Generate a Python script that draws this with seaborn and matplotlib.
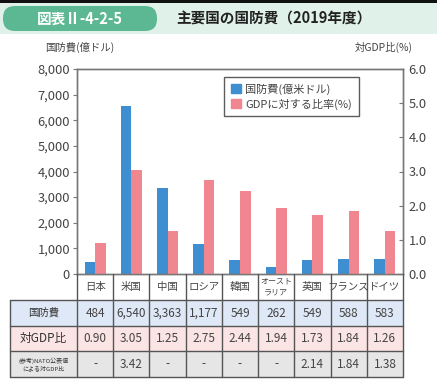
import matplotlib
matplotlib.use("Agg")
import matplotlib.pyplot as plt
import matplotlib.patches as mpatches
import seaborn as sns
import pandas as pd
import numpy as np

# ---- data ----
countries = ["日本", "米国", "中国", "ロシア", "韓国", "オースト\nラリア", "英国", "フランス", "ドイツ"]
spending = [484, 6540, 3363, 1177, 549, 262, 549, 588, 583]          # 億米ドル
gdp_ratio = [0.90, 3.05, 1.25, 2.75, 2.44, 1.94, 1.73, 1.84, 1.26]   # %
nato_ratio = ["-", "3.42", "-", "-", "-", "-", "2.14", "1.84", "1.38"]
spending_labels = ["484", "6,540", "3,363", "1,177", "549", "262", "549", "588", "583"]
left_ticks = [0, 1000, 2000, 3000, 4000, 5000, 6000, 7000, 8000]
right_ticks = [0.0, 1.0, 2.0, 3.0, 4.0, 5.0, 6.0]
series = ["国防費(億米ドル)", "GDPに対する比率(%)"]

BLUE = "#3d8fd1"
PINK = "#ef8690"
TXT = "#444444"
AX = "#777777"

sns.set_theme(style="white")
plt.rcParams["font.family"] = ["Noto Sans CJK JP", "DejaVu Sans"]

W, H = 437, 388
fig = plt.figure(figsize=(W / 100, H / 100), dpi=100)

def px_axes(x0, y0, x1, y1):
    return [x0 / W, 1 - y1 / H, (x1 - x0) / W, (y1 - y0) / H]

# ---- header ----
hax = fig.add_axes([0, 0, 1, 1])
hax.set_xlim(0, W); hax.set_ylim(H, 0); hax.axis("off")
hax.add_patch(mpatches.Rectangle((0, 0), W, 3, color="#111111", lw=0))
hax.add_patch(mpatches.Rectangle((0, 3), W, 31, color="#dff1e8", lw=0))
hax.add_patch(mpatches.FancyBboxPatch((3, 6), 154, 25, boxstyle="round,pad=0,rounding_size=12",
                                      color="#5cb892", lw=0))
hax.text(80, 18.5, "図表Ⅱ-4-2-5", color="white", fontsize=10.5, fontweight="bold",
         ha="center", va="center")
hax.text(176, 18.5, "主要国の国防費（2019年度）", color="#222222", fontsize=10.5,
         fontweight="bold", ha="left", va="center")
hax.text(80, 47, "国防費(億ドル)", color=TXT, fontsize=7.5, ha="center", va="center")
hax.text(384, 47, "対GDP比(%)", color=TXT, fontsize=7.5, ha="center", va="center")

# ---- main chart ----
ax = fig.add_axes(px_axes(77, 69, 403, 274))
ax2 = ax.twinx()

df_sp = pd.DataFrame({"country": countries, "value": spending, "series": series[0]})
df_gd = pd.DataFrame({"country": countries, "value": gdp_ratio, "series": series[1]})

sns.barplot(data=df_sp, x="country", y="value", hue="series", hue_order=series,
            palette=[BLUE, PINK], width=0.58, order=countries, ax=ax, dodge=True,
            legend=False, edgecolor="none", saturation=1)
sns.barplot(data=df_gd, x="country", y="value", hue="series", hue_order=series,
            palette=[BLUE, PINK], width=0.58, order=countries, ax=ax2, dodge=True,
            legend=False, edgecolor="none", saturation=1)

ax.set_xlim(-0.5, len(countries) - 0.5)
ax.set_ylim(0, 8000)
ax2.set_ylim(0, 6)
ax.set_yticks(left_ticks)
ax.set_yticklabels([f"{v:,}" for v in left_ticks])
ax2.set_yticks(right_ticks)
ax2.set_yticklabels([f"{v:.1f}" for v in right_ticks])
ax.set_xlabel(""); ax.set_ylabel(""); ax2.set_ylabel("")
ax.set_xticks(range(len(countries)))
ax.set_xticklabels([])
ax.tick_params(axis="x", length=0)
ax.tick_params(axis="y", direction="out", length=3, width=0.8, color=AX,
               labelsize=9.3, labelcolor=TXT, pad=2)
ax2.tick_params(axis="y", direction="in", length=3, width=0.8, color=AX,
                labelsize=9.3, labelcolor=TXT, pad=4)
for a in (ax, ax2):
    for s in a.spines.values():
        s.set_color(AX); s.set_linewidth(1.0)

# category labels
xtr = ax.get_xaxis_transform()
for i, c in enumerate(countries):
    parts = c.split("\n")
    if len(parts) == 2:
        ax.text(i, -0.036, parts[0], transform=xtr, ha="center", va="center",
                fontsize=5.8, color=TXT)
        ax.text(i, -0.090, parts[1], transform=xtr, ha="center", va="center",
                fontsize=5.8, color=TXT)
    else:
        ax.text(i, -0.063, c, transform=xtr, ha="center", va="center",
                fontsize=7.5, color=TXT)

handles = [mpatches.Patch(color=BLUE, label=series[0]), mpatches.Patch(color=PINK, label=series[1])]
leg = ax2.legend(handles=handles, loc="upper left", bbox_to_anchor=(0.451, 0.963),
                 frameon=True, fancybox=False, fontsize=8, handlelength=0.9, handleheight=0.9,
                 handletextpad=0.4, labelspacing=0.35, borderpad=0.6, borderaxespad=0)
leg.get_frame().set_edgecolor("#333333")
leg.get_frame().set_linewidth(1.0)
for t in leg.get_texts():
    t.set_color(TXT)

# ---- table ----
tax = fig.add_axes(px_axes(8, 272, 405, 380))
tax.set_xlim(8, 405); tax.set_ylim(380, 272); tax.axis("off")
x0, xh, xr = 10, 77, 403
cw = (xr - xh) / len(countries)
rows_y = [300, 326, 351, 377]
bgs = ["#dfe8f6", "#fbe4e4", "#e6e6e6"]
for r in range(3):
    tax.add_patch(mpatches.Rectangle((x0, rows_y[r]), xr - x0, rows_y[r + 1] - rows_y[r],
                                     color=bgs[r], lw=0))
LC = "#555555"
for y in rows_y:
    tax.plot([x0, xr], [y, y], color=LC, lw=1.0)
tax.plot([x0, x0], [300, 377], color=LC, lw=1.0)
for i in range(len(countries) + 1):
    xx = xh + i * cw
    tax.plot([xx, xx], [274, 377], color=LC, lw=1.0)

row_vals = [spending_labels, [f"{v:.2f}" for v in gdp_ratio], nato_ratio]
for r in range(3):
    yc = (rows_y[r] + rows_y[r + 1]) / 2
    for i, v in enumerate(row_vals[r]):
        tax.text(xh + (i + 0.5) * cw, yc, v, ha="center", va="center", fontsize=8.5, color=TXT)

tax.text((x0 + xh) / 2, (rows_y[0] + rows_y[1]) / 2, "国防費", ha="center", va="center",
         fontsize=7.5, color="#333333")
tax.text((x0 + xh) / 2, (rows_y[1] + rows_y[2]) / 2, "対GDP比", ha="center", va="center",
         fontsize=8.5, color="#333333")
tax.text((x0 + xh) / 2, (rows_y[2] + rows_y[3]) / 2, "(参考)NATO公表値\nによる対GDP比",
         ha="center", va="center", fontsize=4.3, color="#333333", linespacing=1.3)

fig.savefig("out.png", dpi=100)
